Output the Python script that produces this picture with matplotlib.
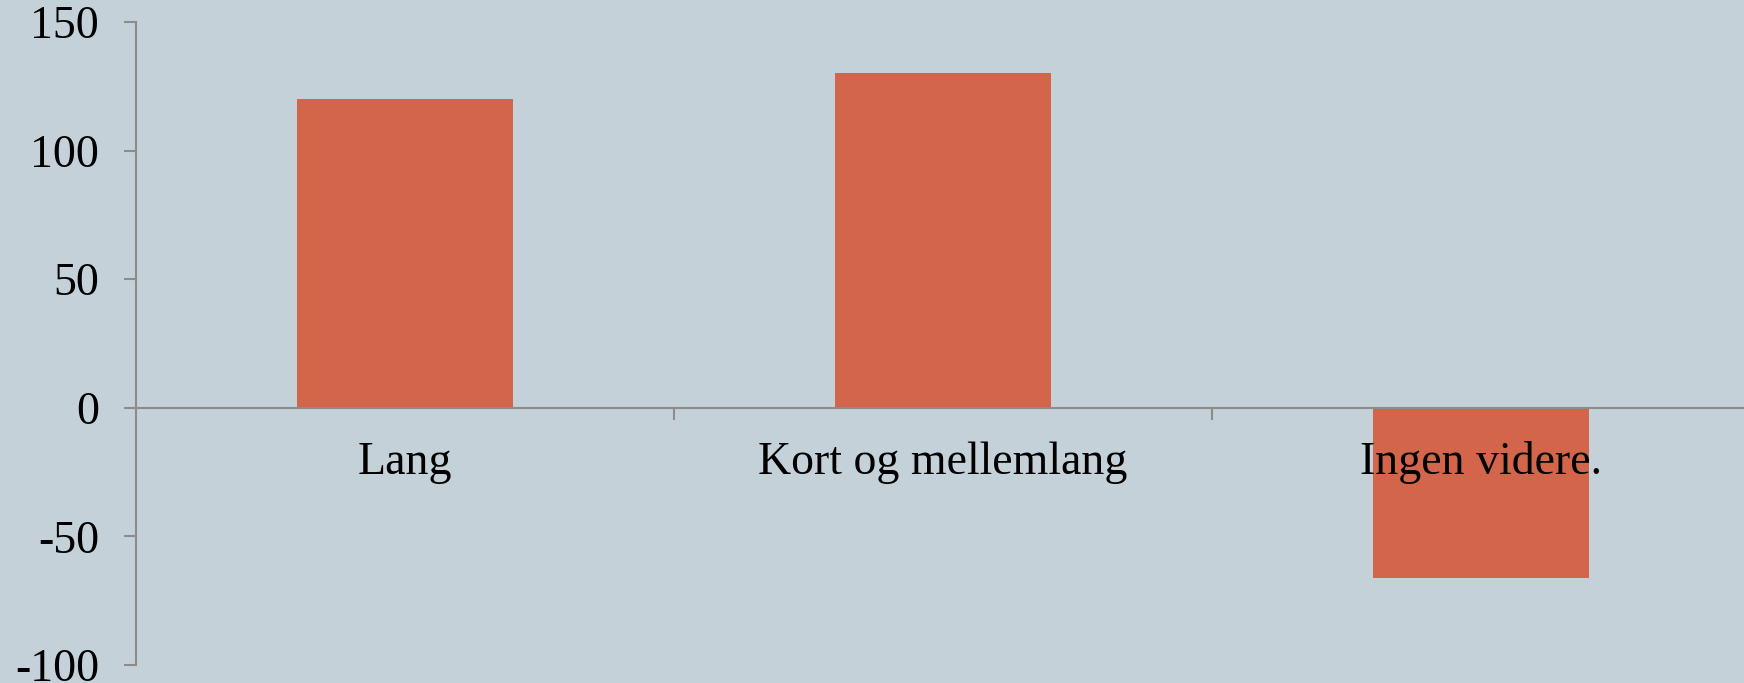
import matplotlib
matplotlib.use("Agg")
import matplotlib.pyplot as plt
from matplotlib.ticker import FixedLocator

categories = ["Lang", "Kort og mellemlang", "Ingen videre."]
values = [120, 130, -66]
yticks = [-100, -50, 0, 50, 100, 150]

bg = "#C5D1D8"
bar_color = "#D2654A"
axis_color = "#8C8C8C"

plt.rcParams["font.family"] = ["Liberation Serif", "DejaVu Serif"]

W, H = 1744, 683
fig = plt.figure(figsize=(W / 100, H / 100), dpi=100)
fig.patch.set_facecolor(bg)
left = 136 / W
right = 1750 / W
top = 1 - 22 / H
bottom = 1 - 665 / H
ax = fig.add_axes([left, bottom, right - left, top - bottom])
ax.set_facecolor(bg)

x = list(range(len(categories)))
ax.bar(x, values, width=0.40, color=bar_color, zorder=1)

ax.set_xlim(-0.5, len(categories) - 0.5)
ax.set_ylim(-100, 150)
ax.set_yticks(yticks)
ax.set_yticklabels([str(v) for v in yticks])

ax.set_xticks(x)
ax.set_xticklabels(categories)
ax.xaxis.set_minor_locator(FixedLocator([0.5, 1.5]))

for s in ["top", "right"]:
    ax.spines[s].set_visible(False)
ax.spines["bottom"].set_position(("data", 0))
ax.spines["bottom"].set_color(axis_color)
ax.spines["left"].set_color(axis_color)
ax.spines["bottom"].set_linewidth(1.5)
ax.spines["left"].set_linewidth(1.5)
ax.spines["bottom"].set_zorder(2)

ax.tick_params(axis="y", length=8.5, width=1.5, color=axis_color, pad=18,
               labelsize=33, labelcolor="black")
ax.tick_params(axis="x", which="major", length=0, pad=24, labelsize=33,
               labelcolor="black")
ax.tick_params(axis="x", which="minor", length=8.5, width=1.5, color=axis_color)

fig.savefig("out.png", dpi=100, facecolor=bg)
